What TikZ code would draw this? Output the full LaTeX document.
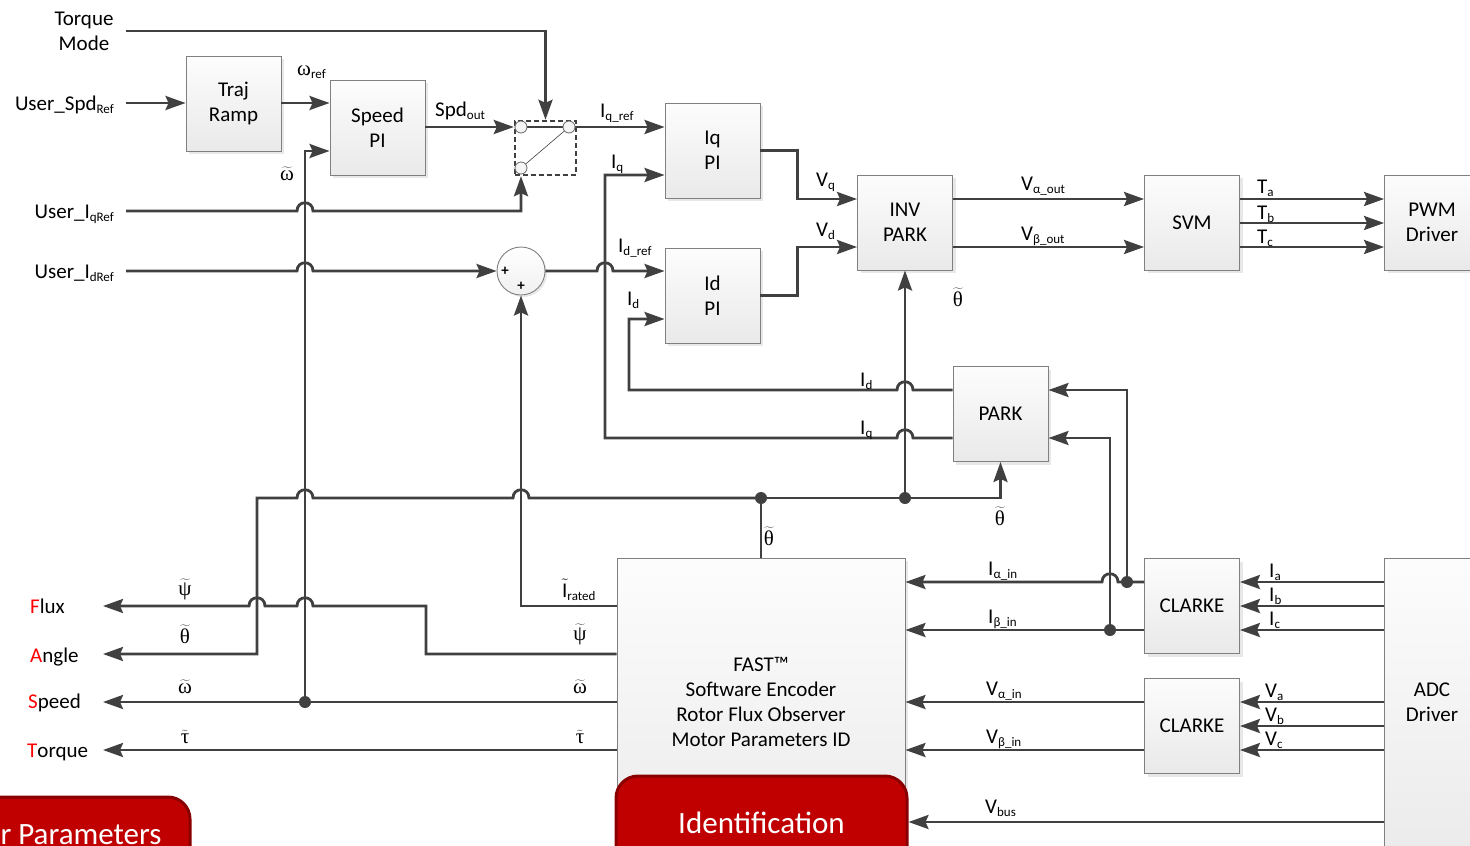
\documentclass[tikz,border=0pt]{standalone}
\usepackage{fontspec}
\setmainfont{Carlito}
\newfontfamily\grk{Liberation Serif}
\usetikzlibrary{arrows.meta,shadows,calc}
\definecolor{ln}{HTML}{404040}
\definecolor{bd}{HTML}{808080}
\definecolor{tired}{HTML}{C00000}
\definecolor{tiredd}{HTML}{8A0000}
\newcommand\sbs[1]{\raisebox{-3.5pt}{\fontsize{13pt}{13pt}\selectfont #1}}
\newcommand\tg[1]{$\widetilde{\hbox{\grk #1}}$}
\newcommand\hopr[2]{-- ({#1-8},#2) .. controls ({#1-8},{#2-11}) and ({#1+8},{#2-11}) .. ({#1+8},#2)}
\newcommand\hopl[2]{-- ({#1+8},#2) .. controls ({#1+8},{#2-11}) and ({#1-8},{#2-11}) .. ({#1-8},#2)}
\tikzset{
  blk/.style={draw=bd, line width=0.9pt, top color=gray!2, bottom color=gray!17,
    minimum width=95pt, minimum height=95pt, align=center, inner sep=0pt,
    drop shadow={shadow xshift=3pt, shadow yshift=-3pt, opacity=0.18, fill=gray}},
  wire/.style={draw=ln, line width=2.8pt},
  arr/.style={wire, -{Stealth[length=20pt,width=14pt,inset=3pt]}},
  lbl/.style={inner sep=0pt, anchor=base west},
  clbl/.style={inner sep=0pt, anchor=base},
  dot/.style={fill=ln},
  redbox/.style={draw=tiredd, line width=3pt, fill=tired, rounded corners=22pt,
    text=white, font=\fontsize{31pt}{31pt}\selectfont, inner sep=0pt},
  swc/.style={circle, draw=gray!80!black, line width=0.8pt, fill=gray!8, minimum size=12pt, inner sep=0pt}
}
\begin{document}
\begin{tikzpicture}[x=1pt,y=-1pt, font=\fontsize{21pt}{25pt}\selectfont]
\useasboundingbox (0,0) rectangle (1470,846);
\clip (0,0) rectangle (1470,846);

% ---- blocks
\node[blk] (traj)  at (233.5,103.5) {Traj\\Ramp};
\node[blk] (spdpi) at (377.5,127.5) {Speed\\PI};
\node[blk] (iqpi)  at (712.5,150.5) {Iq\\PI};
\node[blk] (idpi)  at (712.5,295.5) {Id\\PI};
\node[blk] (ipark) at (905,222.5) {INV\\PARK};
\node[blk] (svm)   at (1192,222.5) {SVM};
\node[blk] (pwm)   at (1432,222.5) {PWM\\Driver};
\node[blk] (park)  at (1000.5,414) {PARK};
\node[blk] (clk1)  at (1192,606) {CLARKE};
\node[blk] (clk2)  at (1192,726) {CLARKE};
\node[blk, minimum height=320pt, anchor=north] (adc) at (1432,558) {};
\node[inner sep=0pt, align=center] (adctxt) at (1432,702) {ADC\\Driver};
\node[blk, minimum width=288pt, minimum height=320pt, anchor=north] (fast) at (761,558) {};
\node[inner sep=0pt, align=center] (fasttxt) at (761,702) {FAST™\\Software Encoder\\Rotor Flux Observer\\Motor Parameters ID};
\node[redbox, minimum width=291pt, minimum height=94pt] (ident) at (761.5,823) {Identification};
\node[redbox, minimum width=218pt, minimum height=76pt] (mparam) at (81,835) {r Parameters};

% sum junction
\node[circle, draw=bd, line width=0.9pt, top color=white, bottom color=gray!12, minimum size=48pt,
  drop shadow={shadow xshift=2pt, shadow yshift=-2pt, opacity=0.18, fill=gray}] (sum) at (521,271) {};
\node[inner sep=0pt, font=\fontsize{15pt}{15pt}\selectfont\bfseries] (p1) at (505,271) {+};
\node[inner sep=0pt, font=\fontsize{15pt}{15pt}\selectfont\bfseries] (p2) at (521,286) {+};

% switch
\node[draw=ln, line width=2.4pt, dash pattern=on 5pt off 3pt, minimum width=61pt, minimum height=54pt, inner sep=0pt] (sw) at (545.5,148) {};
\coordinate (swa) at (521,127);
\coordinate (swb) at (569,127);
\coordinate (swcc) at (521,168);

% ---- text labels
\node[inner sep=0pt, align=center] (tm) at (84,31) {Torque\\Mode};
\node[inner sep=0pt, anchor=base east] (uspd) at (114,110) {User\_Spd\sbs{Ref}};
\node[inner sep=0pt, anchor=base east] (uiq) at (114,218) {User\_I\sbs{qRef}};
\node[inner sep=0pt, anchor=base east] (uid) at (114,278) {User\_I\sbs{dRef}};
\node[lbl] (flux)   at (30,613) {\textcolor{red}{F}lux};
\node[lbl] (angle)  at (30,662) {\textcolor{red}{A}ngle};
\node[lbl] (speed)  at (28,708) {\textcolor{red}{S}peed};
\node[lbl] (torque) at (27,757) {\textcolor{red}{T}orque};

\coordinate (tmS) at (126,31);
\coordinate (uspdS) at (126,103);
\coordinate (uiqS) at (126,211);
\coordinate (uidS) at (126,271);
\coordinate (fluxT) at (103,606);
\coordinate (angT) at (103,654);
\coordinate (spdT) at (103,702);
\coordinate (trqT) at (103,750);
\coordinate (dotW) at (305,702);
\coordinate (dotA) at (761,498);
\coordinate (dotB) at (905,498);
\coordinate (dotC) at (1127,582);
\coordinate (dotD) at (1110,630);

% ---- connectors
\draw[arr] (tmS) -| (sw.north);
\draw[arr] (uspdS) -- (traj.west |- uspdS);
\draw[arr] (traj.east |- 0,103) -- (spdpi.west |- 0,103);
\draw[arr] (spdpi.east |- 0,127) -- (sw.west |- 0,127);
\draw[wire] (swa) -- (swb);
\draw[arr] (swb) -- (iqpi.west |- swb);
\draw[draw=ln, line width=0.6pt] (swcc) -- (swb);
\node[swc] (c1) at (swa) {};
\node[swc] (c2) at (swb) {};
\node[swc] (c3) at (swcc) {};
\draw[arr] (uiqS) \hopr{305}{211} -| (sw.south -| swcc);
\draw[arr] (uidS) \hopr{305}{271} -- (sum.west);
\draw[arr] (sum.east) \hopr{605}{271} -- (idpi.west |- sum.east);
\draw[arr] (fast.west |- 0,606) -| (sum.south);

\draw[arr] (park.west |- 0,438) \hopl{905}{438} -- (605,438) |- (iqpi.west |- 0,175);
\draw[arr] (park.west |- 0,390) \hopl{905}{390} -- (629,390) |- (idpi.west |- 0,319);

\draw[arr] (iqpi.east) -- ++(37,0) |- (ipark.west |- 0,199);
\draw[arr] (idpi.east) -- ++(37,0) |- (ipark.west |- 0,247);
\draw[arr] (ipark.east |- 0,199) -- (svm.west |- 0,199);
\draw[arr] (ipark.east |- 0,247) -- (svm.west |- 0,247);
\draw[arr] (svm.east |- 0,199) -- (pwm.west |- 0,199);
\draw[arr] (svm.east |- 0,223) -- (pwm.west |- 0,223);
\draw[arr] (svm.east |- 0,247) -- (pwm.west |- 0,247);

% theta bus
\draw[wire] (fast.north -| dotA) -- (dotA);
\draw[arr] (dotA) -| (park.south);
\draw[arr] (dotB) -- (ipark.south);
\draw[arr] (dotA) \hopl{521}{498} \hopl{305}{498} -- (257,498) -- (257,654) -- (angT);

% outputs to the left
\draw[arr] (fast.west |- 0,654) -- (426,654) -- (426,606) \hopl{305}{606} \hopl{257}{606} -- (fluxT);
\draw[arr] (fast.west |- 0,702) -- (spdT);
\draw[arr] (dotW) |- (spdpi.west |- 0,151);
\draw[arr] (fast.west |- 0,750) -- (trqT);

% right side
\draw[arr] (clk1.west |- 0,582) \hopl{1110}{582} -- (fast.east |- 0,582);
\draw[arr] (clk1.west |- 0,630) -- (fast.east |- 0,630);
\draw[arr] (dotC) |- (park.east |- 0,390);
\draw[arr] (dotD) |- (park.east |- 0,438);
\draw[arr] (clk2.west |- 0,702) -- (fast.east |- 0,702);
\draw[arr] (clk2.west |- 0,750) -- (fast.east |- 0,750);
\foreach \yy in {582,606,630} \draw[arr] (adc.west |- 0,\yy) -- (clk1.east |- 0,\yy);
\foreach \yy in {702,726,750} \draw[arr] (adc.west |- 0,\yy) -- (clk2.east |- 0,\yy);
\draw[arr] (adc.west |- 0,822) -- (ident.east |- 0,822);

% dots
\foreach \d in {dotW,dotA,dotB,dotC,dotD} \fill[dot] (\d) circle[radius=6pt];

% ---- signal labels
\node[lbl] (wref) at (297,75) {{\grk ω}\sbs{ref}};
\node[clbl] (wt1) at (287,180) {\tg{ω}};
\node[lbl] (spdout) at (435,116) {Spd\sbs{out}};
\node[lbl] (iqref) at (600,117) {I\sbs{q\_ref}};
\node[lbl] (iql) at (611,168) {I\sbs{q}};
\node[lbl] (idref) at (618,252) {I\sbs{d\_ref}};
\node[lbl] (idl) at (627,305) {I\sbs{d}};
\node[lbl] (vq) at (816,186) {V\sbs{q}};
\node[lbl] (vd) at (816,236) {V\sbs{d}};
\node[clbl] (th1) at (958,306) {\tg{θ}};
\node[lbl] (vaout) at (1021,190) {V\sbs{α\_out}};
\node[lbl] (vbout) at (1021,240) {V\sbs{β\_out}};
\node[lbl] (ta) at (1257,193) {T\sbs{a}};
\node[lbl] (tb) at (1257,219) {T\sbs{b}};
\node[lbl] (tc) at (1257,243) {T\sbs{c}};
\node[lbl] (idp) at (860,386) {I\sbs{d}};
\node[lbl] (iqp) at (860,434) {I\sbs{q}};
\node[clbl] (th2) at (1000,525) {\tg{θ}};
\node[clbl] (th3) at (769,545) {\tg{θ}};
\node[lbl] (iain) at (988,575) {I\sbs{α\_in}};
\node[lbl] (ibin) at (988,623) {I\sbs{β\_in}};
\node[lbl] (vain) at (986,695) {V\sbs{α\_in}};
\node[lbl] (vbin) at (986,743) {V\sbs{β\_in}};
\node[lbl] (vbus) at (985,813) {V\sbs{bus}};
\node[lbl] (ia) at (1269,577) {I\sbs{a}};
\node[lbl] (ib) at (1269,601) {I\sbs{b}};
\node[lbl] (ic) at (1269,625) {I\sbs{c}};
\node[lbl] (va) at (1265,697) {V\sbs{a}};
\node[lbl] (vb) at (1265,721) {V\sbs{b}};
\node[lbl] (vc) at (1265,745) {V\sbs{c}};
\node[lbl] (irated) at (562,597) {$\tilde{\hbox{I}}$\sbs{rated}};
\node[clbl] (psi2) at (580,640) {\tg{ψ}};
\node[clbl] (om2) at (580,693) {\tg{ω}};
\node[clbl] (tau2) at (580,743) {\tg{τ}};
\node[clbl] (psi1) at (185,595) {\tg{ψ}};
\node[clbl] (th4) at (185,643) {\tg{θ}};
\node[clbl] (om1) at (185,693) {\tg{ω}};
\node[clbl] (tau1) at (185,743) {\tg{τ}};
\end{tikzpicture}
\end{document}
